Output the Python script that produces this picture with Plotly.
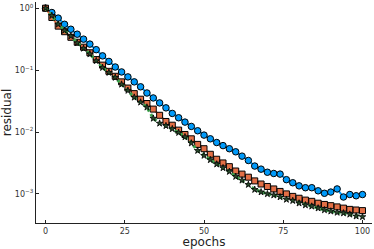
import plotly.graph_objects as go

epochs = list(range(0, 101, 2))

# log10(residual), one value per even epoch
blue_log10 = [0.00, -0.07, -0.16, -0.26, -0.34, -0.42, -0.50, -0.58, -0.67, -0.77,
              -0.86, -0.95, -1.03, -1.11, -1.19, -1.27, -1.37, -1.45, -1.53, -1.61,
              -1.70, -1.77, -1.84, -1.91, -1.98, -2.05, -2.11, -2.17, -2.22, -2.27,
              -2.32, -2.39, -2.46, -2.55, -2.60, -2.65, -2.67, -2.68, -2.77, -2.82,
              -2.87, -2.90, -2.90, -2.95, -2.99, -2.97, -2.92, -3.05, -3.01, -3.03,
              -3.01]
orange_log10 = [0.00, -0.15, -0.29, -0.38, -0.47, -0.55, -0.63, -0.72, -0.83, -0.92,
                -1.02, -1.10, -1.19, -1.29, -1.38, -1.47, -1.54, -1.63, -1.73, -1.83,
                -1.89, -1.97, -2.04, -2.11, -2.20, -2.27, -2.36, -2.44, -2.50, -2.56,
                -2.63, -2.68, -2.73, -2.79, -2.84, -2.88, -2.92, -2.96, -3.00, -3.04,
                -3.07, -3.10, -3.12, -3.15, -3.17, -3.19, -3.21, -3.23, -3.25, -3.26,
                -3.27]
green_log10 = [0.00, -0.12, -0.26, -0.36, -0.45, -0.56, -0.65, -0.74, -0.85, -0.96,
               -1.04, -1.12, -1.23, -1.33, -1.44, -1.52, -1.60, -1.78, -1.86, -1.90,
               -1.95, -2.01, -2.08, -2.18, -2.30, -2.38, -2.45, -2.52, -2.58, -2.64,
               -2.72, -2.78, -2.85, -2.93, -2.97, -3.00, -3.02, -3.05, -3.09, -3.11,
               -3.15, -3.18, -3.20, -3.23, -3.26, -3.28, -3.30, -3.31, -3.33, -3.36,
               -3.37]

y_tickvals = [1, 0.1, 0.01, 0.001]
y_ticktext = ["10<sup>0</sup>", "10<sup>−1</sup>", "10<sup>−2</sup>", "10<sup>−3</sup>"]
x_tickvals = [0, 25, 50, 75, 100]

fig = go.Figure()
fig.add_trace(go.Scatter(
    x=epochs, y=[10 ** v for v in blue_log10], mode="lines+markers",
    line=dict(color="#009AFA", width=2),
    marker=dict(symbol="circle", size=6.5, color="#009AFA", line=dict(color="black", width=1)),
))
fig.add_trace(go.Scatter(
    x=epochs, y=[10 ** v for v in orange_log10], mode="lines+markers",
    line=dict(color="#E26F46", width=2),
    marker=dict(symbol="square", size=6, color="#E26F46", line=dict(color="black", width=1)),
))
fig.add_trace(go.Scatter(
    x=epochs, y=[10 ** v for v in green_log10], mode="lines+markers",
    line=dict(color="#3DA44D", width=3, dash="dot"),
    marker=dict(symbol="star", size=5, color="#2a4a2c", line=dict(color="black", width=0.8)),
))

axis_common = dict(
    showgrid=False, zeroline=False, showline=True, linecolor="#222", linewidth=1.2,
    ticks="inside", ticklen=3, tickcolor="#222", tickwidth=1, automargin=False,
    tickfont=dict(family="DejaVu Sans", size=8, color="#333"), mirror=False,
)
fig.update_layout(
    width=374, height=249,
    margin=dict(l=36, r=2, t=2, b=26),
    paper_bgcolor="white", plot_bgcolor="white",
    showlegend=False,
    xaxis=dict(range=[-3, 103], tickvals=x_tickvals,
               title=dict(text="epochs", font=dict(family="DejaVu Sans", size=12, color="#222"), standoff=1),
               **axis_common),
    yaxis=dict(type="log", range=[-3.47, 0.10], tickvals=y_tickvals, ticktext=y_ticktext,
               title=dict(text="residual", font=dict(family="DejaVu Sans", size=12, color="#222"), standoff=3),
               **axis_common),
)
fig.write_html("out.html", config={"displayModeBar": False},
               post_script="document.body.style.margin='0';document.body.style.overflow='hidden';")
